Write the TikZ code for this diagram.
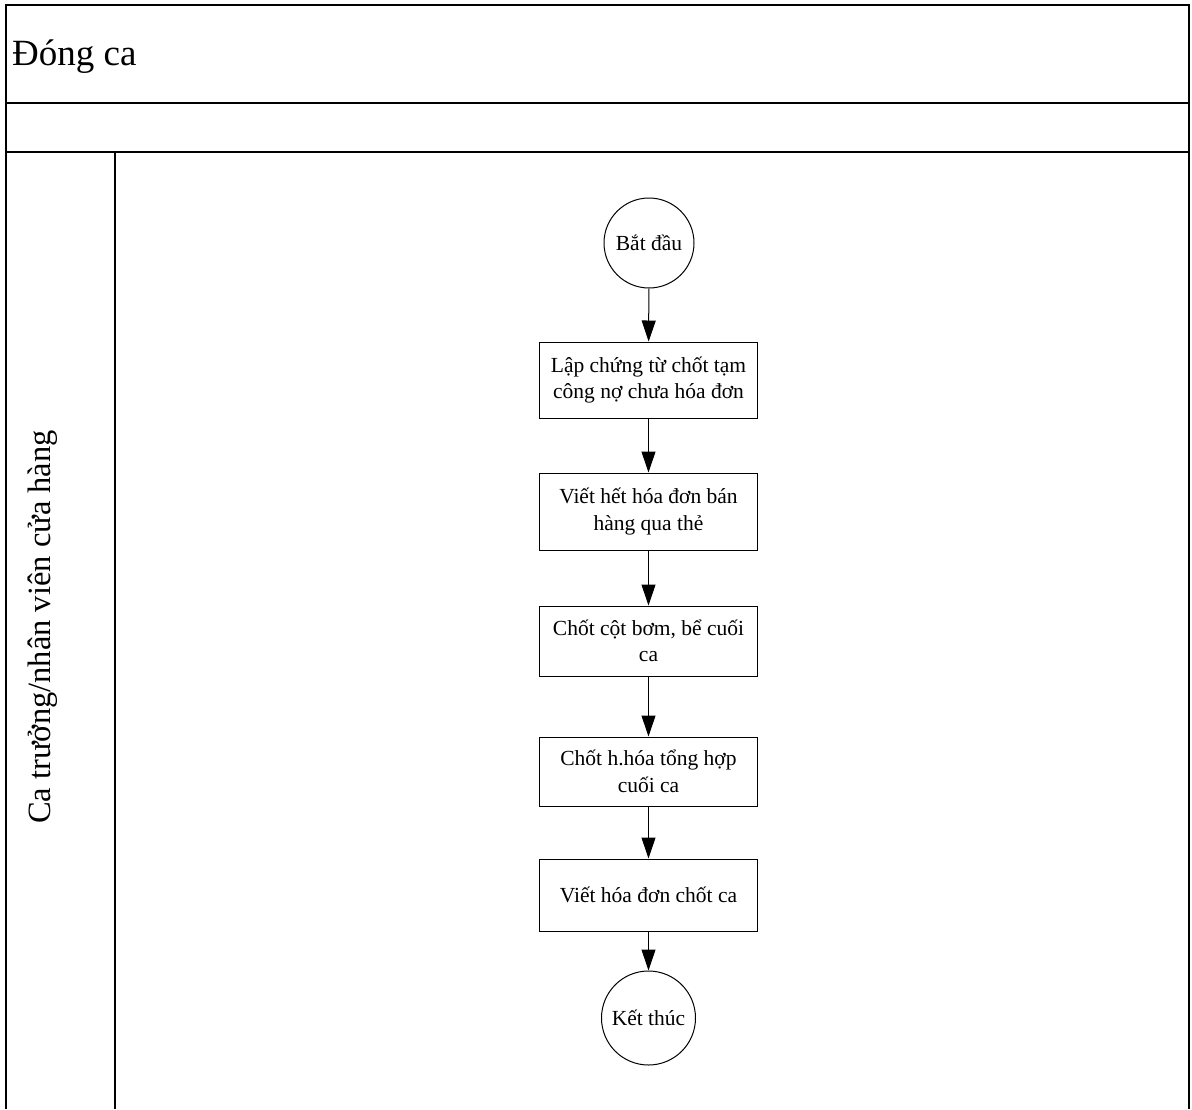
\documentclass[tikz,border=0pt]{standalone}
\usepackage{fontspec}
\setmainfont{Liberation Serif}
\usetikzlibrary{arrows.meta}
\begin{document}
\begin{tikzpicture}[x=1pt,y=-1pt,
  frame/.style={draw=black, line width=1.2pt},
  stepbox/.style={draw=black, line width=1pt, minimum width=218pt, align=center, inner sep=0pt, font=\fontsize{21.5}{26.5}\selectfont},
  term/.style={draw=black, line width=1pt, circle, minimum size=90pt, inner sep=0pt, font=\fontsize{21.5}{26}\selectfont},
  flow/.style={draw=black, line width=1pt, -{Triangle[length=21pt,width=14pt]}}
]
\useasboundingbox (0,0) rectangle (1192,1109);
% pool frame
\draw[frame] (6,1109) -- (6,5) -- (1189,5) -- (1189,1109);
\draw[frame] (6,103) -- (1189,103);
\draw[frame] (6,152) -- (1189,152);
\draw[frame] (115,152) -- (115,1109);
\node[anchor=base west, inner sep=0pt, font=\fontsize{37}{44}\selectfont] (title) at (12,65) {Đóng ca};
\node[rotate=90, inner sep=0pt, font=\fontsize{32.5}{38}\selectfont] (lane) at (43,627) {Ca trưởng/nhân viên cửa hàng};
% nodes
\node[term] (start) at (649,243) {Bắt đầu};
\node[stepbox, minimum height=76pt] (s1) at (648.5,380) {Lập chứng từ chốt tạm\\công nợ chưa hóa đơn};
\node[stepbox, minimum height=77pt] (s2) at (648.5,511.5) {Viết hết hóa đơn bán\\hàng qua thẻ};
\node[stepbox, minimum height=70pt] (s3) at (648.5,641) {Chốt cột bơm, bể cuối\\ca};
\node[stepbox, minimum height=69pt] (s4) at (648.5,771.5) {Chốt h.hóa tổng hợp\\cuối ca};
\node[stepbox, minimum height=72pt] (s5) at (648.5,895) {Viết hóa đơn chốt ca};
\node[term, minimum size=94pt] (end) at (648.5,1018) {Kết thúc};
% connectors
\draw[flow] (start) -- (s1);
\draw[flow] (s1) -- (s2);
\draw[flow] (s2) -- (s3);
\draw[flow] (s3) -- (s4);
\draw[flow] (s4) -- (s5);
\draw[flow] (s5) -- (end);
\end{tikzpicture}
\end{document}
